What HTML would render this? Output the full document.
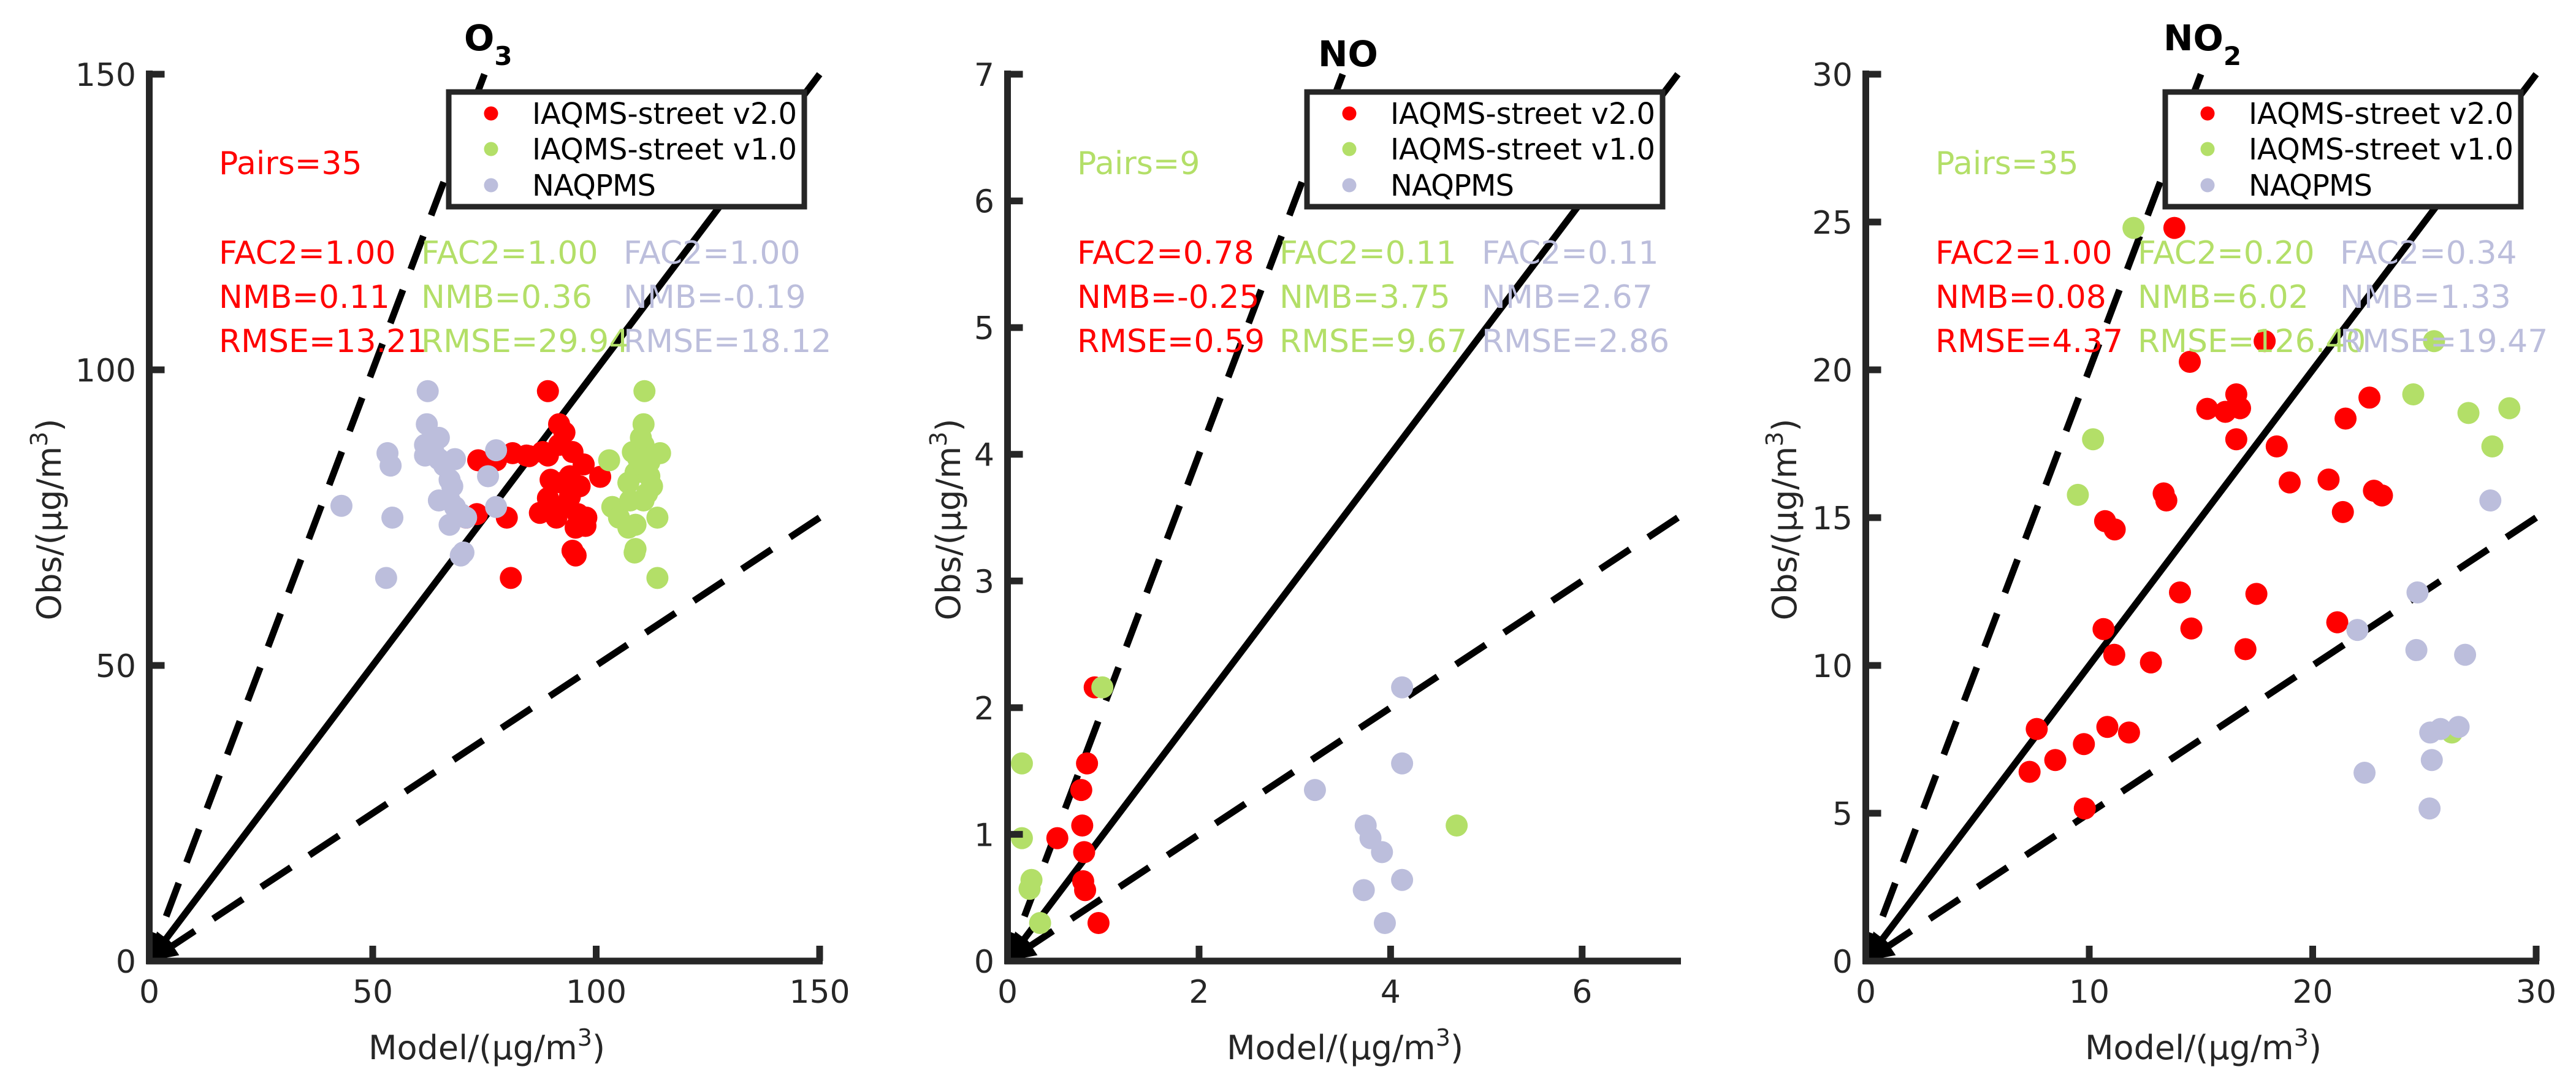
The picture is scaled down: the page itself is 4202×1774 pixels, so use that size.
<!DOCTYPE html>
<html><head><meta charset="utf-8"><style>
html,body{margin:0;padding:0;background:#fff}
svg{display:block;font-family:"DejaVu Sans","Liberation Sans",sans-serif}
</style></head><body>
<svg id="fig" width="4202" height="1774" viewBox="0 0 4202 1774"></svg>
<script>
// ---------- data ----------
const panelTitles = ["O", "NO", "NO"];
const panelSubs = ["3", "", "2"];
const axisMax = [150, 7, 30];
const xTicks0 = [0, 50, 100, 150];
const yTicks0 = [0, 50, 100, 150];
const xTicks1 = [0, 2, 4, 6];
const yTicks1 = [0, 1, 2, 3, 4, 5, 6, 7];
const xTicks2 = [0, 10, 20, 30];
const yTicks2 = [0, 5, 10, 15, 20, 25, 30];
const seriesNames = ["IAQMS-street v2.0", "IAQMS-street v1.0", "NAQPMS"];
const seriesColors = ["#ff0000", "#b3df68", "#bcbedc"];
const pairsText = ["Pairs=35", "Pairs=9", "Pairs=35"];
const pairsColorIdx = [0, 1, 1];
const statsO3 = [["FAC2=1.00","NMB=0.11","RMSE=13.21"],["FAC2=1.00","NMB=0.36","RMSE=29.94"],["FAC2=1.00","NMB=-0.19","RMSE=18.12"]];
const statsNO = [["FAC2=0.78","NMB=-0.25","RMSE=0.59"],["FAC2=0.11","NMB=3.75","RMSE=9.67"],["FAC2=0.11","NMB=2.67","RMSE=2.86"]];
const statsNO2 = [["FAC2=1.00","NMB=0.08","RMSE=4.37"],["FAC2=0.20","NMB=6.02","RMSE=126.40"],["FAC2=0.34","NMB=1.33","RMSE=19.47"]];

const o3RedX = [89.2,91.7,73.6,77.6,81.3,85,89.2,94.7,97.2,92.3,96.3,100.9,94.1,87.4,90.5,95.9,97.6,94.7,95.4,73.3,70.9,80,80.9,92.9,91.7,93.5,89.2,91.1,94.1,89.8,95.4,88,84.4,92.9,97.8];
const o3RedY = [96.4,90.8,84.7,84.7,85.9,85.4,85.5,86.1,84,80.9,80.3,81.9,78.5,75.8,76.2,75.6,73.6,69.4,68.6,75.6,75,75,64.8,76.8,87.3,80.9,78.3,75,82,81.4,73.3,86.1,85.5,89.4,75];
const o3GreenX = [110.8,110.6,102.9,114.3,108.2,110.6,108.8,111.9,107.2,111.4,103.6,105.1,113.7,108.8,110.6,108.6,108.8,113.7,109.4,112.5,107.2,110,107.6,111.9];
const o3GreenY = [96.4,90.8,84.7,85.9,86.1,87.3,82.6,82,80.9,79.1,76.8,75,75,73.8,77.9,69.1,69.7,64.8,85,80.3,73.3,88.5,77.9,84.4];
const o3LavX = [62.3,62.1,53.3,54,43,54.4,53,61.7,64.8,61.7,64.8,68.4,67.2,75.8,77.6,64.8,67.2,67.2,70.9,70.3,69.7,77.6,67.8,69.7,66,63.6,68.4];
const o3LavY = [96.4,90.8,85.9,83.8,77,75,64.8,87.3,88.5,85.5,84.9,84.9,81.4,82,86.4,77.9,77.9,73.8,75,69.1,68.6,76.8,80.3,75.6,83.8,86.1,76.8];

const noRedX = [0.91,0.83,0.77,0.78,0.52,0.80,0.79,0.81,0.95];
const noRedY = [2.16,1.56,1.35,1.07,0.97,0.86,0.63,0.56,0.30];
const noGreenX = [0.99,0.15,0.15,0.25,0.23,0.34,4.69];
const noGreenY = [2.16,1.56,0.97,0.64,0.57,0.30,1.07];
const noLavX = [4.12,4.12,3.21,3.74,3.79,3.91,4.12,3.72,3.94];
const noLavY = [2.16,1.56,1.35,1.07,0.97,0.86,0.64,0.56,0.30];

const no2RedX = [13.81,17.85,14.5,15.28,16.09,16.58,16.75,16.58,18.39,22.54,21.47,18.97,20.71,21.35,22.74,23.1,13.33,13.45,10.71,11.14,14.06,17.48,14.57,21.1,10.64,11.12,12.76,16.99,7.65,10.81,11.78,7.33,8.48,9.76,9.8];
const no2RedY = [24.8,20.97,20.27,18.68,18.58,19.17,18.7,17.65,17.41,19.06,18.35,16.19,16.29,15.19,15.91,15.75,15.82,15.58,14.88,14.6,12.47,12.42,11.25,11.46,11.23,10.36,10.1,10.55,7.85,7.92,7.73,6.4,6.8,7.34,5.16];
const no2GreenX = [11.98,25.43,10.17,9.49,24.5,26.97,28.8,28.04,26.23];
const no2GreenY = [24.8,20.97,17.65,15.77,19.17,18.54,18.7,17.41,7.73];
const no2LavX = [27.95,24.69,22.0,24.64,26.82,25.26,25.72,26.53,22.32,25.33,25.23];
const no2LavY = [15.58,12.47,11.2,10.52,10.36,7.73,7.85,7.92,6.37,6.8,5.16];

// ---------- drawing ----------
const NS = "http://www.w3.org/2000/svg";
const svg = document.getElementById("fig");
function mk(tag, attrs, parent) {
  const e = document.createElementNS(NS, tag);
  for (const k in attrs) e.setAttribute(k, attrs[k]);
  (parent || svg).appendChild(e);
  return e;
}
const defs = mk("defs", {});

const panels = [
  {xt:xTicks0, yt:yTicks0, stats:statsO3, sx:[o3RedX,o3GreenX,o3LavX], sy:[o3RedY,o3GreenY,o3LavY], ylabX:81},
  {xt:xTicks1, yt:yTicks1, stats:statsNO, sx:[noRedX,noGreenX,noLavX], sy:[noRedY,noGreenY,noLavY], ylabX:148},
  {xt:xTicks2, yt:yTicks2, stats:statsNO2, sx:[no2RedX,no2GreenX,no2LavX], sy:[no2RedY,no2GreenY,no2LavY], ylabX:112}
];
const AX0 = 243.5, AX1 = 1337, AY0 = 1567, AY1 = 121;
const axisColor = "#262626";

panels.forEach((p, i) => {
  const off = i * 1400;
  const max = axisMax[i];
  const X = v => off + AX0 + (v / max) * (AX1 - AX0);
  const Y = v => AY0 - (v / max) * (AY0 - AY1);
  const g = mk("g", {});
  
  

  // reference lines with arrowheads pointing to origin
  const refs = [[1, "none", "one-to-one-line"], [2, "58 36", "factor-two-upper-line"], [0.5, "58 36", "factor-two-lower-line"]];
  refs.forEach(r => {
    const slope = r[0];
    const ex = slope >= 1 ? max / slope : max, ey = slope >= 1 ? max : max * slope;
    const x1 = X(ex), y1 = Y(ey), x0 = X(0), y0 = Y(0);
    const dx = x1 - x0, dy = y1 - y0, L = Math.hypot(dx, dy);
    const ux = dx / L, uy = dy / L;
    const hl = 46, hw = 19;
    const bx = x0 + ux * hl, by = y0 + uy * hl;
    const ln = mk("line", {x1:x1, y1:y1, x2:bx, y2:by, stroke:"#000", "stroke-width":"11", "stroke-dasharray":r[1]}, g);
    
    
    const ah = mk("polygon", {points:`${x0},${y0} ${bx - uy*hw},${by + ux*hw} ${bx + uy*hw},${by - ux*hw}`, fill:"#000"}, g);
    
    
  });

  // points
  [0, 1, 2].forEach(s => {
    const sg = mk("g", {fill: seriesColors[s]}, g);
    
    
    p.sx[s].forEach((xv, k) => {
      const c = mk("circle", {cx:X(xv), cy:Y(p.sy[s][k]), r:"18"}, sg);
      
      
    });
  });

  // axes
  const ya = mk("line", {x1:X(0), y1:AY1-6, x2:X(0), y2:AY0+5, stroke:axisColor, "stroke-width":"11"}, g);
  
  
  const xa = mk("line", {x1:X(0)-5, y1:AY0, x2:X(max)+5, y2:AY0, stroke:axisColor, "stroke-width":"11"}, g);
  
  
  p.xt.forEach(t => {
    const tk = mk("line", {x1:X(t), y1:AY0, x2:X(t), y2:AY0-25, stroke:axisColor, "stroke-width":"11"}, g);
    
    
    const tl = mk("text", {x:X(t), y:AY0+68, "text-anchor":"middle", "font-size":"52", fill:axisColor}, g);
    tl.textContent = t;
    
    
  });
  p.yt.forEach(t => {
    const tk = mk("line", {x1:X(0), y1:Y(t), x2:X(0)+25, y2:Y(t), stroke:axisColor, "stroke-width":"11"}, g);
    
    
    const tl = mk("text", {x:off+222, y:Y(t)+19, "text-anchor":"end", "font-size":"52", fill:axisColor}, g);
    tl.textContent = t;
    
    
  });

  // axis titles
  const xl = mk("text", {x:off+794, y:1727, "text-anchor":"middle", "font-size":"54", fill:axisColor}, g);
  xl.innerHTML = 'Model/(μg/m<tspan dy="-22" font-size="38">3</tspan><tspan dy="22">)</tspan>';
  
  
  const yl = mk("text", {x:0, y:0, "text-anchor":"middle", "font-size":"54", fill:axisColor, transform:`translate(${off+p.ylabX+18},847) rotate(-90)`}, g);
  yl.innerHTML = 'Obs/(μg/m<tspan dy="-22" font-size="38">3</tspan><tspan dy="22">)</tspan>';
  
  

  // title
  const tt = mk("text", {x:off + (i===1 ? 750 : (i===0 ? 757 : 729)), y: i===1 ? 108 : 82, "font-size":"58", "font-weight":"bold", fill:"#000"}, g);
  tt.innerHTML = panelTitles[i] + (panelSubs[i] ? '<tspan dy="24" font-size="42">' + panelSubs[i] + '</tspan>' : '');
  
  

  // stats text
  const pt = mk("text", {x:off+357, y:284, "font-size":"52", fill:seriesColors[pairsColorIdx[i]]}, g);
  pt.textContent = pairsText[i];
  
  
  const colX = [357, 687, 1017], rowY = [430, 502, 574];
  p.stats.forEach((col, s) => {
    col.forEach((txt, r) => {
      const st = mk("text", {x:off+colX[s], y:rowY[r], "font-size":"52", fill:seriesColors[s]}, g);
      st.textContent = txt;
      
      
    });
  });

  // legend
  const lg = mk("g", {}, g);
  
  
  mk("rect", {x:off+732, y:150, width:580, height:187, fill:"#fff", stroke:axisColor, "stroke-width":"9"}, lg);
  const rows = [185, 243, 302];
  seriesNames.forEach((nm, s) => {
    const e = mk("g", {}, lg);
    
    
    mk("circle", {cx:off+801, cy:rows[s], r:"11.5", fill:seriesColors[s]}, e);
    const lt = mk("text", {x:off+868, y:rows[s]+17, "font-size":"48", fill:"#000"}, e);
    lt.textContent = nm;
    if (s < 2) lt.setAttribute("textLength", "432");
    else lt.setAttribute("textLength", "202");
  });
});
</script>
</body></html>
